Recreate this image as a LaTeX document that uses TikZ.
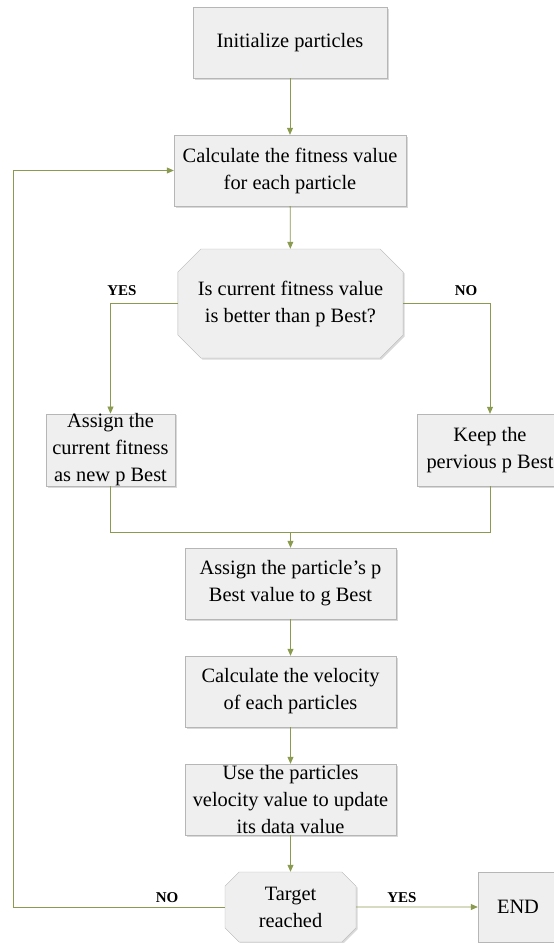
\documentclass[tikz,border=0pt]{standalone}
\usepackage{fontspec}
\setmainfont{Liberation Serif}
\usetikzlibrary{arrows.meta,shapes.misc,shadows}

\definecolor{linegreen}{RGB}{138,154,78}
\definecolor{boxfill}{RGB}{239,239,239}
\definecolor{boxline}{RGB}{182,182,182}

\begin{document}
\begin{tikzpicture}[x=1pt,y=-1pt,
    box/.style={draw=boxline, fill=boxfill, inner sep=0pt, align=center,
      font=\fontsize{20.4}{27}\selectfont,
      drop shadow={shadow xshift=1.5pt,shadow yshift=-1.5pt,opacity=0.3}},
    oct/.style={box, chamfered rectangle, chamfered rectangle xsep=#1},
    line/.style={draw=linegreen, line width=0.8pt},
    arr/.style={line, -{Triangle[width=6pt,length=7pt]}},
    lbl/.style={font=\fontsize{15}{18}\selectfont\bfseries}]
        % Page frame
        \useasboundingbox (0,0) rectangle (554,943);
        \clip (0,0) rectangle (554,943);

        % Main column
        \node[box, minimum width=194pt, minimum height=71pt] (init) at (290,42.5) {Initialize particles};
        \node[box, minimum width=232pt, minimum height=71pt] (calc) at (290,170.5) {Calculate the fitness value\\for each particle};
        \node[oct=20pt, minimum width=211pt, minimum height=109pt] (check) at (290.5,303.5) {Is current fitness value\\is better than p Best?};

        % Two branches
        \node[box, minimum width=129pt, minimum height=72pt] (newbest) at (110.5,450) {Assign the\\current fitness\\as new p Best};
        \node[box, minimum width=146pt, minimum height=72pt] (keep) at (490,450) {Keep the\\pervious p Best};
        \coordinate (join) at (290.5,532);

        \node[box, minimum width=211pt, minimum height=71pt] (gbest) at (290.5,583.5) {Assign the particle’s p\\Best value to g Best};
        \node[box, minimum width=211pt, minimum height=71pt] (velocity) at (290.5,691.5) {Calculate the velocity\\of each particles};
        \node[box, minimum width=211pt, minimum height=71pt] (update) at (290.5,799.5) {Use the particles\\velocity value to update\\its data value};
        \node[oct=11pt, minimum width=131pt, minimum height=70pt] (target) at (290.5,907) {Target\\reached};
        \node[box, minimum width=80pt, minimum height=70pt] (end) at (518,907) {END};
        \coordinate (back) at (13,907);

        % Connectors
        \draw[arr] (init) -- (calc);
        \draw[arr] (calc) -- (check);
        \draw[arr] (check.west) -| (newbest.north);
        \draw[arr] (check.east) -| (keep.north);
        \draw[line] (newbest.south) |- (join);
        \draw[line] (keep.south) |- (join);
        \draw[arr] (join) -- (gbest);
        \draw[arr] (gbest) -- (velocity);
        \draw[arr] (velocity) -- (update);
        \draw[arr] (update) -- (target);
        \draw[arr] (target) -- (end);
        \draw[arr] (target.west) -- (back) |- (calc.west);

        % Labels
        \node[lbl] (yesleft) at (122,291) {YES};
        \node[lbl] (noright) at (466,291) {NO};
        \node[lbl] (noback) at (167,898) {NO};
        \node[lbl] (yesend) at (402,898) {YES};
\end{tikzpicture}
\end{document}
